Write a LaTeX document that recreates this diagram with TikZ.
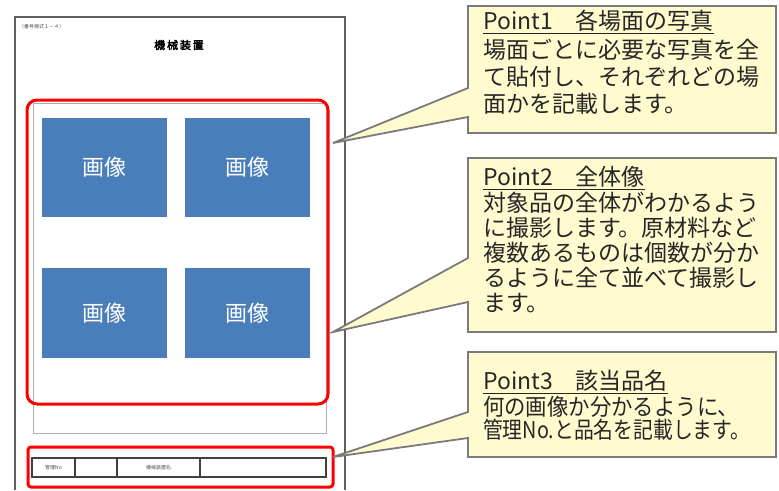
\documentclass[tikz,border=0pt]{standalone}
\usepackage{fontspec}
\setmainfont{Noto Sans CJK JP}
\newfontfamily\jpbold{Noto Sans CJK JP}[FakeBold=3]
\definecolor{pagegray}{HTML}{606060}
\definecolor{redline}{HTML}{FF0000}
\definecolor{imgblue}{HTML}{4A7EBB}
\definecolor{callfill}{HTML}{FFFBCF}
\definecolor{callline}{HTML}{7A7A7A}
\tikzset{
  redbox/.style={draw=redline,line width=3pt},
  imgbox/.style={fill=imgblue,draw=none},
  imgtxt/.style={text=white,font=\fontsize{22}{24}\selectfont,inner sep=0pt},
  callout/.style={fill=callfill,draw=callline,line width=1.8pt,line join=miter},
  ctitle/.style={anchor=west,inner sep=0pt,text=black!85,font=\fontsize{23}{25}\selectfont},
  cline/.style={anchor=west,inner sep=0pt,text=black!85,font=\fontsize{23}{25}\selectfont},
  tiny/.style={inner sep=0pt,text=black!70,font=\fontsize{5}{6}\selectfont},
}
\begin{document}
\begin{tikzpicture}[x=1pt,y=-1pt]
\useasboundingbox (0,0) rectangle (779,490);
% page
\draw[pagegray,line width=1.5pt] (15,490) -- (15,17) -- (345,17) -- (345,490);
\node[tiny,anchor=west] (formno) at (19,27) {（番号様式１－４）};
\node[inner sep=0pt,font=\jpbold\fontsize{11}{12}\selectfont] (doctitle) at (179,45) {機\,械\,装\,置};
% photo frame
\draw[gray!65,line width=1pt] (33,103) rectangle (326,433);
% images
\fill[imgbox] (42,118) rectangle (167,217);
\fill[imgbox] (185,118) rectangle (310,217);
\fill[imgbox] (42,268) rectangle (167,358);
\fill[imgbox] (185,268) rectangle (310,358);
\node[imgtxt] (img1) at (104.5,167.5) {画像};
\node[imgtxt] (img2) at (247.5,167.5) {画像};
\node[imgtxt] (img3) at (104.5,313) {画像};
\node[imgtxt] (img4) at (247.5,313) {画像};
\draw[redbox,rounded corners=10pt] (27,100) rectangle (328,404);
% bottom table
\draw[black!75,line width=1.2pt] (32,458) rectangle (326,477);
\foreach \xx in {75,117,200} \draw[black!75,line width=1.5pt] (\xx,458) -- (\xx,477);
\node[tiny] (kanri) at (53.5,467.5) {管理No};
\node[tiny] (kikai) at (158.5,467.5) {機械装置名};
\draw[redbox,rounded corners=3pt] (28,447) rectangle (333,487);
% callouts
\draw[callout] (468,6) -- (776,6) -- (776,133) -- (468,133) -- (468,117) -- (333,143) -- (468,88) -- cycle;
\draw[callout] (468,158) -- (776,158) -- (776,332) -- (468,332) -- (468,302) -- (333,332) -- (468,258) -- cycle;
\draw[callout] (468,352) -- (776,352) -- (776,457) -- (468,457) -- (468,438) -- (333,457) -- (468,412) -- cycle;
% callout 1 text
\node[ctitle] (p1t) at (483,22) {\underline{Point1　各場面の写真}};
\node[cline] (p1a) at (483,50) {場面ごとに必要な写真を全};
\node[cline] (p1b) at (483,77) {て貼付し、それぞれどの場};
\node[cline] (p1c) at (483,104) {面かを記載します。};
% callout 2 text
\node[ctitle] (p2t) at (483,178) {\underline{Point2　全体像}};
\node[cline] (p2a) at (483,203) {対象品の全体がわかるよう};
\node[cline] (p2b) at (483,228) {に撮影します。原材料など};
\node[cline] (p2c) at (483,253) {複数あるものは個数が分か};
\node[cline] (p2d) at (483,278) {るように全て並べて撮影し};
\node[cline] (p2e) at (483,303) {ます。};
% callout 3 text
\node[ctitle] (p3t) at (483,382) {\underline{Point3　該当品名}};
\node[cline] (p3a) at (483,407) {\scalebox{0.93}[1]{何の画像か分かるように、}};
\node[cline] (p3b) at (483,430) {\scalebox{0.86}[1]{管理No.と品名を記載します。}};
\end{tikzpicture}
\end{document}
